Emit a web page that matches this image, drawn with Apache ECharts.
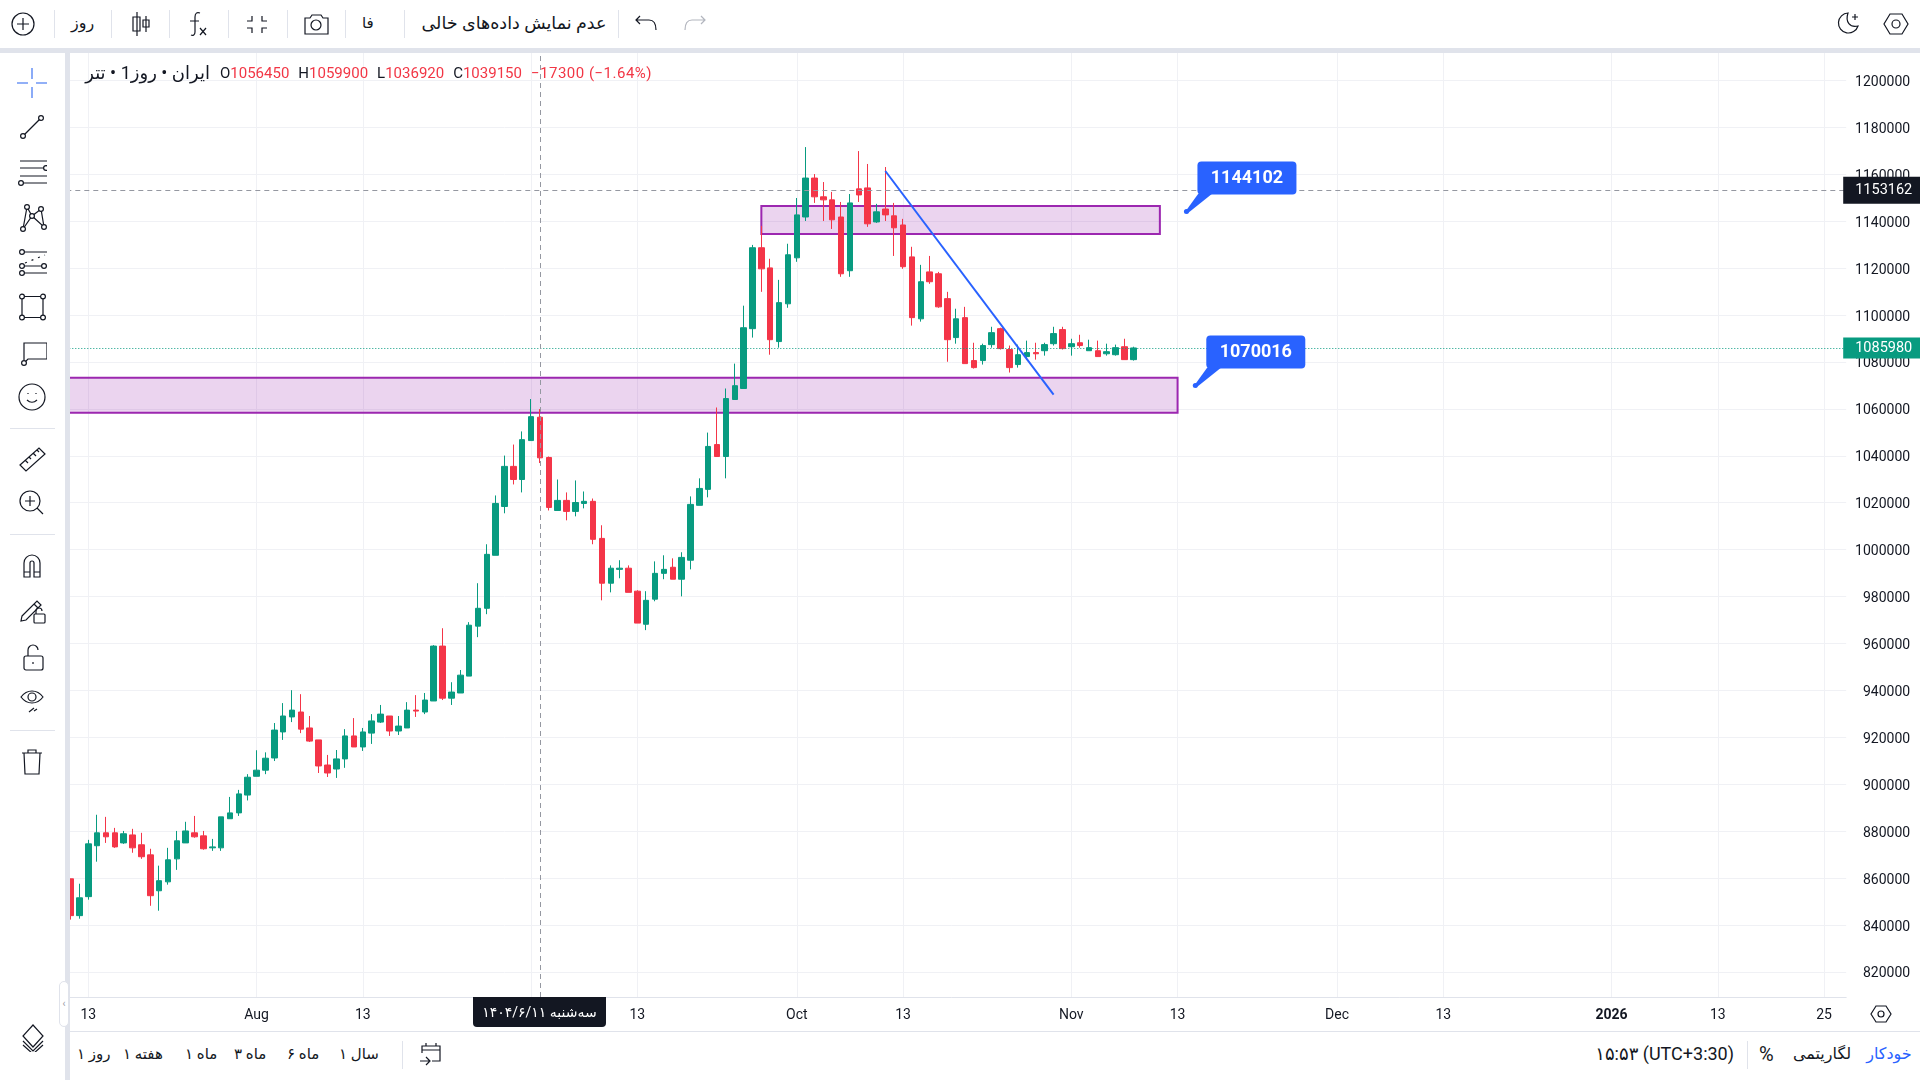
<!DOCTYPE html>
<html>
<head>
<meta charset="utf-8">
<title>ایران روز تتر</title>
<script src="https://cdn.jsdelivr.net/npm/echarts@6/dist/echarts.min.js"></script>
<style>
html,body{margin:0;padding:0;background:#fff;width:1920px;height:1080px;overflow:hidden;font-family:Roboto,"DejaVu Sans",sans-serif;color:#131722}
#main{position:absolute;left:0;top:0;width:1920px;height:1080px}
.box{position:absolute;z-index:5;background:#fff}
.lav{position:absolute;z-index:5;background:#e0e3eb}
.t{position:absolute;z-index:7;white-space:nowrap;font-size:15px;line-height:20px}
.ic{position:absolute;z-index:7;fill:none;stroke:#131722;stroke-width:1.2}
.ic circle{fill:#fff}
</style>
</head>
<body>
<div id="main"></div>

<!-- top bar -->
<div class="box" style="left:0;top:0;width:1920px;height:48px"></div>
<div class="lav" style="left:0;top:48px;width:1920px;height:5px"></div>
<div class="t" style="left:71px;top:13px;font-size:16px">روز</div>
<div class="t" style="left:362px;top:13px;font-size:15px">فا</div>
<div class="t" style="left:414px;top:13px;width:200px;text-align:center;font-size:17.5px" dir="rtl">عدم نمایش داده‌های خالی</div>

<!-- left tool bar -->
<div class="box" style="left:0;top:53px;width:65px;height:1027px;border-top-right-radius:6px"></div>
<div class="lav" style="left:65px;top:53px;width:5px;height:1027px"></div>

<!-- legend line -->
<div class="t" style="left:83px;top:63px;width:127px;font-size:18px;text-align:right" dir="rtl">ایران&nbsp;•&nbsp;روز1&nbsp;•&nbsp;تتر</div>
<div class="t" id="ohlc" style="left:220px;top:63px;font-size:15px"></div>

<!-- time axis strip -->
<div class="box" style="left:473px;top:997px;width:133px;height:30px;background:#131722;border-radius:0 0 4px 4px;z-index:6"></div>
<div class="t" style="left:473px;top:1002px;width:133px;text-align:center;color:#fff;font-size:14px" dir="rtl">سه‌شنبه ۱۴۰۴/۶/۱۱</div>

<!-- bottom bar -->
<div class="box" style="left:70px;top:1031px;width:1850px;height:49px;border-top:1px solid #e0e3eb"></div>
<div class="t" style="left:77px;top:1044px" dir="rtl">روز ۱</div>
<div class="t" style="left:123px;top:1044px" dir="rtl">هفته ۱</div>
<div class="t" style="left:185px;top:1044px" dir="rtl">ماه ۱</div>
<div class="t" style="left:234px;top:1044px" dir="rtl">ماه ۳</div>
<div class="t" style="left:287px;top:1044px" dir="rtl">ماه ۶</div>
<div class="t" style="left:339px;top:1044px" dir="rtl">سال ۱</div>
<div class="t" style="left:1584px;top:1044px;width:150px;text-align:right;font-size:18px">۱۵:۵۳ (UTC+3:30)</div>
<div class="t" style="left:1759px;top:1044px;font-size:20px">%</div>
<div class="t" style="left:1788px;top:1044px;width:68px;text-align:center;font-size:16px" dir="rtl">لگاریتمی</div>
<div class="t" style="left:1862px;top:1044px;width:54px;text-align:center;color:#2962ff;font-size:16px" dir="rtl">خودکار</div>

<script>
// bars: 121 daily candles
var opens = [859700,844000,852100,873800,879300,879300,875000,878400,874200,869900,854600,858400,868200,875000,879300,878000,872900,872900,885300,887800,
    895400,903400,906000,911200,922300,928700,930800,924000,918900,908200,906500,910800,920600,915900,921800,926500,929100,922700,924000,931600,
    930800,935500,958900,936700,938900,946100,967400,975000,997600,1018400,1035500,1029900,1046500,1056450,1039300,1016700,1021000,1016300,1019700,1020600,
    1004800,985700,991600,992100,982300,968200,978900,989900,992500,987400,995500,1018900,1025700,1044800,1039700,1064000,1068700,1094200,1128700,1120100,
    1088700,1104800,1124400,1141800,1158400,1150400,1149100,1141800,1118900,1153800,1154200,1139700,1145200,1142300,1138400,1124800,1098400,1118400,1117600,1107000,
    1090400,1098900,1080600,1080600,1087400,1094200,1085300,1078900,1082300,1084000,1084800,1087800,1093800,1086500,1088200,1084800,1084800,1083500,1083100,1086500,
    1081000];
var closes = [844000,851600,874600,879300,877600,873300,878900,872900,869100,852500,858900,867800,875900,880100,877600,872500,873300,886100,887800,895900,
    903000,906000,911100,923100,929100,931600,923500,918400,907800,904800,910800,920600,915900,922300,927000,929900,922700,924800,931600,931200,
    935900,958900,936700,939300,946500,967800,975000,998000,1019700,1035500,1029900,1046900,1056700,1039150,1018000,1021000,1016300,1020100,1020600,1004400,
    985700,992100,992100,981800,968700,978400,989900,991600,987400,996700,1019300,1026100,1044000,1039700,1064400,1069900,1094600,1128700,1119700,1089500,
    1105300,1125700,1142700,1158400,1150400,1149100,1140600,1117600,1147800,1151200,1138900,1144000,1142700,1137200,1120600,1098900,1114200,1114200,1103500,1089500,
    1098400,1079300,1077600,1087000,1092500,1085700,1077600,1083100,1084000,1083500,1087400,1092100,1085700,1087800,1087000,1086100,1082300,1084400,1086100,1081000,
    1085980];
var lows = [842300,842700,850800,867000,875000,872900,874600,870800,868200,848200,846100,857200,863500,875000,877200,872100,871600,871600,885300,886500,
    893100,903400,904300,909900,918900,926500,921800,918000,904800,903100,902700,907000,915900,914200,917200,926100,920600,921000,924000,928700,
    929900,935500,935900,933800,938900,946100,962700,972500,997600,1015500,1027800,1024400,1046500,1036920,1016700,1016700,1012500,1014200,1017600,1002300,
    978400,981800,987800,981800,968700,965700,978000,987400,987400,980100,991600,1018900,1022300,1039700,1030400,1064000,1068700,1090400,1109900,1083100,
    1086100,1103100,1122700,1140100,1147800,1140100,1136700,1116300,1116300,1148200,1137600,1139300,1140100,1125200,1119700,1095500,1097200,1113300,1103100,1080100,
    1087800,1079300,1077200,1078900,1086100,1085300,1075500,1077600,1081000,1081000,1082700,1087000,1085300,1082700,1086100,1084800,1082300,1082700,1082700,1081000,
    1080600];
var highs = [859700,857600,876300,887000,886100,881400,880100,881000,879300,872500,865300,872900,880100,884000,886500,880100,876700,886100,894600,897600,
    904300,914500,913600,926100,934600,940100,938400,929100,918900,912500,914600,923500,928200,924000,929900,933800,929100,929100,935000,938000,
    938900,959300,966500,943500,948700,969100,985700,1002300,1023100,1040100,1044800,1050400,1064200,1059900,1039700,1029900,1024400,1029500,1024800,1021800,
    1010400,993300,995500,993300,982700,982300,995000,997600,996300,998900,1022700,1030400,1049900,1060600,1068700,1079300,1104000,1129900,1138000,1124000,
    1115000,1130400,1149900,1171600,1160100,1156700,1152500,1148200,1151600,1169900,1164400,1147400,1163100,1147800,1141000,1129100,1121400,1125200,1118400,1109900,
    1102700,1103500,1088200,1087800,1095000,1094600,1087000,1087400,1089100,1088200,1088200,1095000,1095000,1089900,1091600,1089500,1089100,1087800,1087400,1089900,
    1086500];

// axis ticks
var yTicks = [820000,840000,860000,880000,900000,920000,940000,960000,980000,1000000,1020000,1040000,1060000,1080000,1100000,1120000,1140000,1160000,1180000,1200000];
var tickDates = ['2025-07-13','2025-08-01','2025-08-13','2025-09-01','2025-09-13','2025-10-01','2025-10-13','2025-11-01','2025-11-13','2025-12-01','2025-12-13','2026-01-01','2026-01-13','2026-01-25'];
var tickLabels = ['13','Aug','13','Sep','13','Oct','13','Nov','13','Dec','13','2026','13','25'];

// drawings on the chart
var zoneLow = ['2025-07-10','2025-11-13',1073300,1058400];
var zoneHigh = ['2025-09-27','2025-11-11',1146500,1134600];
var trendLine = [['2025-10-11',1161400],['2025-10-30',1066100]];
var crossDate = '2025-09-02';
var crossPrice = 1153162;
var lastPrice = 1085980;
var callouts = [['2025-11-14',1144102],['2025-11-15',1070016]];

// one category per day; starts a day before the first candle (hidden under the tool bar)
// and runs on past the last candle
var categories = [];
for (var i = 0; i < 202; i++) {
    categories.push(new Date(Date.UTC(2025, 6, 10 + i)).toISOString().slice(0, 10));
}
var candles = [['-','-','-','-']].concat(opens.map(function (o, i) {
    return [o, closes[i], lows[i], highs[i]];
}));

var green = '#089b80', red = '#f43548', blue = '#2962ff', purple = '#9c27b0';

var chart = echarts.init(document.getElementById('main'));
chart.setOption({
    animation: false,
    textStyle: {fontFamily: 'Roboto'},
    grid: {left: 57.31, right: 73.8, top: 53, bottom: 83},
    xAxis: {
        type: 'category',
        data: categories,
        boundaryGap: true,
        axisLine: {lineStyle: {color: '#e0e3eb'}},
        axisTick: {show: false},
        axisLabel: {
            color: '#131722',
            fontSize: 14,
            margin: 11,
            interval: function (i, v) { return tickDates.indexOf(v) >= 0; },
            formatter: function (v) {
                var t = tickLabels[tickDates.indexOf(v)];
                return t === '2026' ? '{b|2026}' : t;
            },
            rich: {b: {fontWeight: 'bold', fontSize: 14, color: '#131722'}}
        },
        splitLine: {
            show: true,
            alignWithLabel: true,
            interval: function (i, v) { return tickDates.indexOf(v) >= 0; },
            lineStyle: {color: '#f0f1f5'}
        }
    },
    yAxis: {
        type: 'value',
        position: 'right',
        scale: true,
        min: 809317,
        max: 1211705,
        axisLine: {show: false},
        axisTick: {show: false, customValues: yTicks},
        axisLabel: {
            margin: 64, align: 'right',
            customValues: yTicks,
            formatter: function (v) { return '{a|' + v + '}'; },
            rich: {a: {color: '#131722', fontSize: 14, padding: [4, 0, 0, 0]}}
        },
        splitLine: {lineStyle: {color: '#f0f1f5'}}
    },
    series: [{
        type: 'candlestick',
        data: candles,
        barWidth: 6,
        itemStyle: {color: green, color0: red, borderColor: green, borderColor0: red, borderWidth: 1},
        markArea: {
            silent: true,
            itemStyle: {color: 'rgba(156,39,176,0.2)', borderColor: purple, borderWidth: 2},
            data: [
                [{xAxis: zoneLow[0], yAxis: zoneLow[2]}, {xAxis: zoneLow[1], yAxis: zoneLow[3]}],
                [{xAxis: zoneHigh[0], yAxis: zoneHigh[2]}, {xAxis: zoneHigh[1], yAxis: zoneHigh[3]}]
            ]
        },
        markLine: {
            silent: true,
            symbol: 'none',
            data: [
                {
                    yAxis: crossPrice,
                    lineStyle: {color: '#9598a1', type: [5, 4], width: 1},
                    label: {
                        show: true, position: 'end', distance: -3, formatter: String(crossPrice),
                        color: '#fff', backgroundColor: '#131722', fontSize: 14.5,
                        height: 25, lineHeight: 25, padding: [2, 10, 0, 12]
                    }
                },
                {
                    yAxis: lastPrice,
                    lineStyle: {color: green, type: [1, 2], width: 1},
                    label: {
                        show: true, position: 'end', distance: -3, formatter: String(lastPrice),
                        color: '#fff', backgroundColor: green, fontSize: 14.5,
                        height: 19, lineHeight: 19, padding: [2, 10, 0, 12]
                    }
                },
                {
                    xAxis: crossDate,
                    lineStyle: {color: '#9598a1', type: [5, 4], width: 1},
                    label: {show: false}
                },
                [
                    {coord: trendLine[0], lineStyle: {color: blue, type: 'solid', width: 2}, label: {show: false}},
                    {coord: trendLine[1]}
                ]
            ]
        }
    }, {
        // price callouts: box hangs off a tip placed by the axes
        type: 'custom',
        z: 6,
        silent: true,
        data: callouts,
        encode: {x: 0, y: 1},
        renderItem: function (params, api) {
            var p = api.coord([api.value(0), api.value(1)]);
            return {
                type: 'group',
                x: p[0],
                y: p[1],
                children: [
                    {type: 'polygon', shape: {points: [[-1, 0], [12, -18], [26, -18], [1, 2]]}, style: {fill: blue}},
                    {type: 'circle', shape: {cx: 0, cy: 0, r: 2.5}, style: {fill: blue}},
                    {type: 'rect', shape: {x: 11, y: -50, width: 99, height: 33, r: 4}, style: {fill: blue}},
                    {
                        type: 'text',
                        x: 60.5,
                        y: -33,
                        style: {
                            text: String(api.value(1)),
                            fill: '#fff',
                            font: 'bold 18px Roboto',
                            align: 'center',
                            verticalAlign: 'middle'
                        }
                    }
                ]
            };
        }
    }]
});

// legend values of the bar under the crosshair
var legendParts = [['O','1056450'],['H','1059900'],['L','1036920'],['C','1039150']];
var legendHtml = '';
legendParts.forEach(function (p) {
    legendHtml += p[0] + '<span style="color:#f23645;margin-right:9px">' + p[1] + '</span>';
});
legendHtml += '<span style="color:#f23645;letter-spacing:.5px">−17300 (−1.64%)</span>';
document.getElementById('ohlc').innerHTML = legendHtml;

// tool icons, 30x30 boxes centred on the given point
var c = function (x, y, r) { return '<circle cx="' + x + '" cy="' + y + '" r="' + (r || 2.4) + '"/>'; };
var p = function (d) { return '<path d="' + d + '"/>'; };
var icons = [
    // left bar
    [32, 83, '<path style="stroke:#6f97f5;stroke-width:1.6" d="M15 0v11M15 19v11M0 15h11M19 15h11"/>'],
    [32, 127, p('M6 24L24 6') + c(6, 24) + c(24, 6)],
    [32, 172, p('M3 4h28M3 11h26M3 19h28M6 26h26') + c(29, 11) + c(4, 26)],
    [32, 217, p('M10 5L6 27L15 14L27 25L24 7L15 14L10 5') + c(10, 5) + c(6, 27) + c(15, 14) + c(27, 25) + c(24, 7)],
    [32, 263, '<path d="M6 4h25M6 18h24M6 25h25"/><path style="stroke-dasharray:2 5" d="M8 15L28 7"/>' + c(5, 4) + c(5, 18) + c(27, 18) + c(5, 25)],
    [32, 307, p('M5 4.500h21v21h-21z') + c(5, 4.5) + c(26, 4.5) + c(5, 25.500) + c(26, 25.500)],
    [32, 352, p('M7 23V6h23v16H11L7 26') + c(7, 26)],
    [32, 397, '<circle style="fill:none" cx="15" cy="15" r="13"/>' + p('M10 18c3 3 7 3 10 0M11 11v1M19 11v1')],
    [32, 458, p('M3 22L22 5l6 6L9 28zM8 17l3 3M12 14l2 2M16 10l3 3M20 7l2 2')],
    [32, 503, '<circle style="fill:none" cx="13" cy="13" r="10"/>' + p('M20 20l6 6M8 13h10M13 8v10')],
    [32, 565, p('M7 27V13a8 8 0 0 1 16 0v14h-6V13a2 2 0 0 0-4 0v14zM7 22h6M17 22h6')],
    [32, 610, p('M5 21L20 6l4 4L9 25l-5 1zM17 9l4 4') + '<rect x="17" y="19" width="11" height="9" rx="1"/>' + p('M19 19v-3a3 3 0 0 1 6 0')],
    [32, 657, '<rect x="7" y="14" width="19" height="14" rx="2"/>' + p('M11 14V8a5 5 0 0 1 10 0M16 20v2')],
    [32, 700, p('M4 12c6-8 16-8 22 0c-6 8-16 8-22 0zM17 23l-5 4M20 24l-3 2') + '<circle style="fill:none" cx="15" cy="12" r="4"/>'],
    [32, 762, p('M5 6h20M11 6V3h8v3M7 6l1 21h14l1-21')],
    [33, 1037, p('M15 3l10 11-10 11L5 14zM5 19l10 10 10-10M5 23l10 9 10-9')],
    // top bar
    [23, 24, '<circle style="fill:none" cx="15" cy="15" r="11"/>' + p('M15 9v12M9 15h12')],
    [141, 24, p('M11 3v24M7 8h7v14H7zM20 7v16M17 11h6v7h-6z')],
    [198, 24, p('M17 4c-3-1-5 0-5 4v15c0 3-2 4-4 3M7 12h9M17 19l6 7M23 19l-6 7')],
    [257, 24, p('M5 12h5V7M25 12h-5V7M5 19h5v5M25 19h-5v5')],
    [316, 24, p('M4 9h5l2-3h9l2 3h5v16H4z') + '<circle style="fill:none" cx="15" cy="16" r="5"/>'],
    [647, 24, p('M8 7l-4 4 4 4M4 11h13c5 0 7 4 7 10')],
    [694, 24, '<path style="stroke:#b2b5be" d="M22 7l4 4-4 4M26 11H13c-5 0-7 4-7 10"/>'],
    [1848, 24, p('M15 4a10 10 0 1 0 10 13c-8 2-13-4-10-13zM22 5v6M19 8h6')],
    [1896, 24, p('M9 5h12l6 10-6 10H9L3 15z') + '<circle style="fill:none" cx="15" cy="15" r="4"/>'],
    // time axis and date range
    [1881, 1014, p('M10 7h10l5 8-5 8H10l-5-8z') + '<circle style="fill:none" cx="15" cy="15" r="3"/>'],
    [431, 1054, p('M6 14V7h18v15H16M6 11h18M10 4v3M20 4v3M4 22h9M10 18l4 4-4 4')]
];
var html = '';
icons.forEach(function (ic) {
    html += '<svg class="ic" width="30" height="30" viewBox="0 0 30 30" style="left:' + (ic[0] - 15) + 'px;top:' + (ic[1] - 15) + 'px">' + ic[2] + '</svg>';
});
// dividers
[54,111,169,228,287,345,404,618].forEach(function (x) {
    html += '<div class="lav" style="z-index:7;left:' + x + 'px;top:10px;width:1px;height:28px"></div>';
});
[428,534,730].forEach(function (y) {
    html += '<div class="lav" style="z-index:7;left:10px;top:' + y + 'px;width:45px;height:1px"></div>';
});
html += '<div class="lav" style="z-index:7;left:402px;top:1041px;width:1px;height:28px"></div>';
html += '<div class="lav" style="z-index:7;left:1747px;top:1041px;width:1px;height:28px"></div>';
html += '<div class="t" style="left:59px;top:981px;width:10px;height:46px;background:#fff;border-radius:5px;border:1px solid #e0e3eb;box-sizing:border-box;color:#9598a1;font-size:10px;line-height:44px;text-align:center">‹</div>';
document.body.insertAdjacentHTML('beforeend', html);
</script>
</body>
</html>
